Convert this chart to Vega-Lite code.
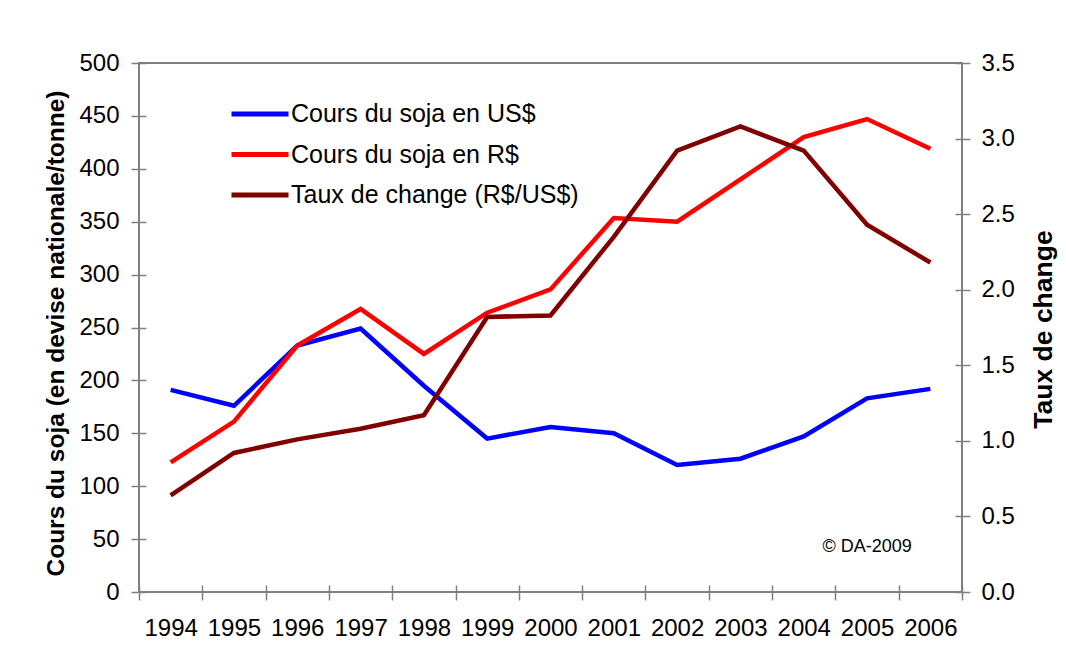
{
  "$schema": "https://vega.github.io/schema/vega-lite/v6.json",
  "width": 823,
  "height": 529,
  "autosize": {"type": "none"},
  "padding": {"left": 139, "top": 63, "right": 104, "bottom": 61},
  "background": "white",
  "config": {
    "font": "Liberation Sans",
    "view": {"stroke": "#808080", "strokeWidth": 2},
    "axis": {
      "domain": false,
      "grid": false,
      "tickColor": "#808080",
      "tickWidth": 1.5,
      "labelColor": "black",
      "labelFont": "Liberation Sans",
      "labelFontSize": 24,
      "titleFont": "Liberation Sans",
      "titleColor": "black",
      "titleFontWeight": "bold"
    }
  },
  "data": {
    "values": [
      {"annee": "1994", "serie": "Cours du soja en US$", "valeur": 191},
      {"annee": "1995", "serie": "Cours du soja en US$", "valeur": 176},
      {"annee": "1996", "serie": "Cours du soja en US$", "valeur": 233},
      {"annee": "1997", "serie": "Cours du soja en US$", "valeur": 249},
      {"annee": "1998", "serie": "Cours du soja en US$", "valeur": 195},
      {"annee": "1999", "serie": "Cours du soja en US$", "valeur": 145},
      {"annee": "2000", "serie": "Cours du soja en US$", "valeur": 156},
      {"annee": "2001", "serie": "Cours du soja en US$", "valeur": 150},
      {"annee": "2002", "serie": "Cours du soja en US$", "valeur": 120},
      {"annee": "2003", "serie": "Cours du soja en US$", "valeur": 126},
      {"annee": "2004", "serie": "Cours du soja en US$", "valeur": 147},
      {"annee": "2005", "serie": "Cours du soja en US$", "valeur": 183},
      {"annee": "2006", "serie": "Cours du soja en US$", "valeur": 192},
      {"annee": "1994", "serie": "Cours du soja en R$", "valeur": 122.5},
      {"annee": "1995", "serie": "Cours du soja en R$", "valeur": 161},
      {"annee": "1996", "serie": "Cours du soja en R$", "valeur": 233},
      {"annee": "1997", "serie": "Cours du soja en R$", "valeur": 267.5},
      {"annee": "1998", "serie": "Cours du soja en R$", "valeur": 225},
      {"annee": "1999", "serie": "Cours du soja en R$", "valeur": 264},
      {"annee": "2000", "serie": "Cours du soja en R$", "valeur": 286},
      {"annee": "2001", "serie": "Cours du soja en R$", "valeur": 353.5},
      {"annee": "2002", "serie": "Cours du soja en R$", "valeur": 350},
      {"annee": "2003", "serie": "Cours du soja en R$", "valeur": 390},
      {"annee": "2004", "serie": "Cours du soja en R$", "valeur": 430},
      {"annee": "2005", "serie": "Cours du soja en R$", "valeur": 447},
      {"annee": "2006", "serie": "Cours du soja en R$", "valeur": 419},
      {"annee": "1994", "serie": "Taux de change (R$/US$)", "valeur": 0.64},
      {"annee": "1995", "serie": "Taux de change (R$/US$)", "valeur": 0.92},
      {"annee": "1996", "serie": "Taux de change (R$/US$)", "valeur": 1.01},
      {"annee": "1997", "serie": "Taux de change (R$/US$)", "valeur": 1.08},
      {"annee": "1998", "serie": "Taux de change (R$/US$)", "valeur": 1.17},
      {"annee": "1999", "serie": "Taux de change (R$/US$)", "valeur": 1.82},
      {"annee": "2000", "serie": "Taux de change (R$/US$)", "valeur": 1.83},
      {"annee": "2001", "serie": "Taux de change (R$/US$)", "valeur": 2.35},
      {"annee": "2002", "serie": "Taux de change (R$/US$)", "valeur": 2.92},
      {"annee": "2003", "serie": "Taux de change (R$/US$)", "valeur": 3.08},
      {"annee": "2004", "serie": "Taux de change (R$/US$)", "valeur": 2.92},
      {"annee": "2005", "serie": "Taux de change (R$/US$)", "valeur": 2.43},
      {"annee": "2006", "serie": "Taux de change (R$/US$)", "valeur": 2.18}
    ]
  },
  "encoding": {
    "x": {
      "field": "annee",
      "type": "ordinal",
      "scale": {"type": "band", "paddingInner": 0, "paddingOuter": 0},
      "axis": {
        "title": null,
        "labelAngle": 0,
        "tickBand": "extent",
        "offset": -7,
        "tickSize": 15,
        "labelPadding": 16,
        "labelOverlap": false
      }
    }
  },
  "layer": [
    {
      "transform": [{"filter": {"field": "serie", "oneOf": ["Cours du soja en US$", "Cours du soja en R$"]}}],
      "mark": {"type": "line", "strokeWidth": 4.5},
      "encoding": {
        "y": {
          "field": "valeur",
          "type": "quantitative",
          "scale": {"domain": [0, 500], "nice": false},
          "axis": {
            "orient": "left",
            "values": [0, 50, 100, 150, 200, 250, 300, 350, 400, 450, 500],
            "offset": -7,
            "tickSize": 15,
            "labelPadding": 12,
            "title": "Cours du soja (en devise nationale/tonne)",
            "titleFontSize": 24.5,
            "titleAngle": -90,
            "titleAlign": "center",
            "titleBaseline": "alphabetic",
            "titleX": -83,
            "titleY": 270
          }
        },
        "color": {
          "field": "serie",
          "type": "nominal",
          "scale": {
            "domain": ["Cours du soja en US$", "Cours du soja en R$", "Taux de change (R$/US$)"],
            "range": ["#0000ff", "#ff0000", "#800000"]
          },
          "legend": {
            "title": null,
            "orient": "none",
            "legendX": 90,
            "legendY": 38,
            "symbolType": "stroke",
            "symbolSize": 3249,
            "symbolStrokeWidth": 5,
            "clipHeight": 26,
            "rowPadding": 14.5,
            "labelOffset": 0,
            "labelLimit": 500,
            "labelFontSize": 25,
            "labelColor": "black",
            "labelFont": "Liberation Sans",
            "padding": 0
          }
        }
      }
    },
    {
      "transform": [{"filter": {"field": "serie", "equal": "Taux de change (R$/US$)"}}],
      "mark": {"type": "line", "strokeWidth": 4.5},
      "encoding": {
        "y": {
          "field": "valeur",
          "type": "quantitative",
          "scale": {"domain": [0, 3.5], "nice": false},
          "axis": {
            "orient": "right",
            "values": [0, 0.5, 1, 1.5, 2, 2.5, 3, 3.5],
            "format": ".1f",
            "offset": -7,
            "tickSize": 15,
            "labelPadding": 11,
            "title": "Taux de change",
            "titleFontSize": 26.5,
            "titleAngle": -90,
            "titleAlign": "center",
            "titleBaseline": "alphabetic",
            "titleX": 96,
            "titleY": 266
          }
        },
        "color": {
          "field": "serie",
          "type": "nominal",
          "scale": {
            "domain": ["Cours du soja en US$", "Cours du soja en R$", "Taux de change (R$/US$)"],
            "range": ["#0000ff", "#ff0000", "#800000"]
          }
        }
      }
    },
    {
      "data": {"values": [{"texte": "© DA-2009"}]},
      "mark": {"type": "text", "fontSize": 18, "color": "black", "font": "Liberation Sans", "baseline": "middle", "align": "center"},
      "encoding": {
        "x": {"datum": "2005", "type": "ordinal"},
        "y": {"datum": 43, "type": "quantitative", "scale": {"domain": [0, 500], "nice": false}, "axis": null},
        "text": {"field": "texte"}
      }
    }
  ],
  "resolve": {"scale": {"y": "independent"}}
}
